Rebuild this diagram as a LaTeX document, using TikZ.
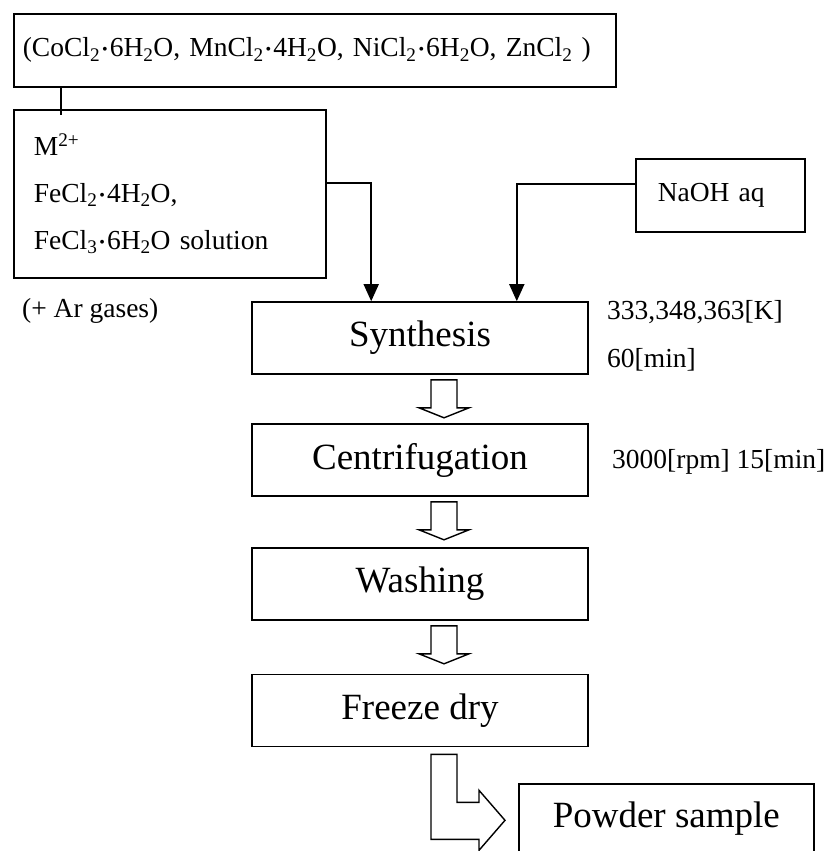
\documentclass[tikz,border=0pt]{standalone}
\usepackage{fontspec}
\setmainfont{Liberation Serif}
\usetikzlibrary{arrows.meta,calc}
\newcommand{\hdot}{\kern2pt\raisebox{2.5pt}{\fontsize{16pt}{16pt}\selectfont •}\kern2pt}
\tikzset{
	stepbox/.style={draw, line width=1.6pt, minimum width=336pt, minimum height=72pt,
			font=\fontsize{37}{40}\selectfont},
	inbox/.style={draw, line width=1.6pt, align=left, font=\fontsize{27.5}{47}\selectfont},
	note/.style={inner sep=0pt, anchor=west, font=\fontsize{27.5}{30}\selectfont},
	feed/.style={line width=1.6pt, -{Triangle[width=15pt,length=17pt]}},
	hollow/.style={line width=1.4pt, fill=white, line join=miter}
}

\begin{document}
\begin{tikzpicture}[x=1pt, y=-1pt]
			\useasboundingbox (0,0) rectangle (826,851);

			\node [inbox, anchor=north west, inner xsep=9pt, text width=584pt, minimum height=73pt] (mix) at (13,13)
				{(CoCl\textsubscript{2}\hdot 6H\textsubscript{2}O, MnCl\textsubscript{2}\hdot 4H\textsubscript{2}O, NiCl\textsubscript{2}\hdot 6H\textsubscript{2}O, ZnCl\textsubscript{2} )};
			\node [inbox, anchor=north west, inner xsep=20pt, text width=272pt, minimum height=168pt] (src) at (13,109)
				{M\textsuperscript{2+}\\FeCl\textsubscript{2}\hdot 4H\textsubscript{2}O,\\FeCl\textsubscript{3}\hdot 6H\textsubscript{2}O solution};
			\node [inbox, anchor=north west, inner xsep=22pt, text width=125pt, minimum height=73pt] (naoh) at (635,158) {NaOH aq};
			\node [note] (gas) at (22,311) {(+ Ar gases)};

			\node [stepbox] (synth) at (420,338) {Synthesis};
			\node [stepbox] (cent) at (420,460) {Centrifugation};
			\node [stepbox] (wash) at (420,584) {Washing};
			\node [stepbox] (dry) at (420,710.5) {Freeze dry};
			\node [stepbox, anchor=north west, minimum width=295pt, minimum height=70pt] (powder) at (518,783) {Powder sample};

			\node [note] (temp) at (607,312) {333,348,363[K]};
			\node [note] (time) at (607,360) {60[min]};
			\node [note] (spin) at (612,462) {3000[rpm] 15[min]};

			\draw [line width=1.6pt] ([xshift=48pt]mix.south west) -- ([xshift=48pt,yshift=-6pt]src.north west);
			\draw [feed] ([yshift=11pt]src.east) -| ([xshift=120pt]synth.north west);
			\draw [feed] ([yshift=11.5pt]naoh.west) -| ([xshift=-72pt]synth.north east);

			\foreach \a in {synth, cent, wash}
				\draw [hollow] ([xshift=11pt,yshift=-5pt]\a.south)
					-- ++(0,28) -- ++(-12,0) -- ++(25,10) -- ++(25,-10) -- ++(-12,0) -- ++(0,-28) -- cycle;
			\draw [hollow] ([xshift=11pt,yshift=-7pt]dry.south)
				-- ++(0,85) -- ++(48,0) -- ++(0,11) -- ++(26,-30) -- ++(-26,-30)
				-- ++(0,12) -- ++(-22,0) -- ++(0,-48) -- cycle;
		\end{tikzpicture}
\end{document}
